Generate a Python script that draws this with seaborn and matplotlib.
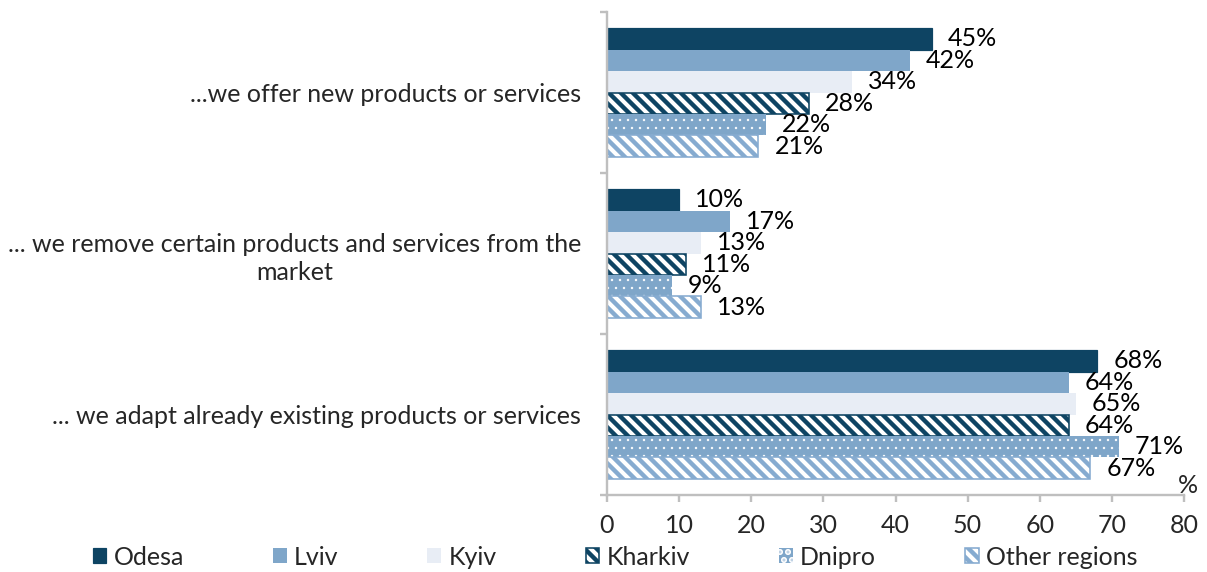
import matplotlib
matplotlib.use("Agg")
import matplotlib.pyplot as plt
import seaborn as sns
import pandas as pd
from matplotlib.ticker import FixedLocator

# Survey responses by region (% of respondents)
categories = [
    "...we offer new products or services",
    "... we remove certain products and services from the\nmarket",
    "... we adapt already existing products or services",
]
regions = ["Odesa", "Lviv", "Kyiv", "Kharkiv", "Dnipro", "Other regions"]
odesa = [45, 10, 68]
lviv = [42, 17, 64]
kyiv = [34, 13, 65]
kharkiv = [28, 11, 64]
dnipro = [22, 9, 71]
other_regions = [21, 13, 67]
series = [odesa, lviv, kyiv, kharkiv, dnipro, other_regions]
x_ticks = [0, 10, 20, 30, 40, 50, 60, 70, 80]

rows = []
for region, vals in zip(regions, series):
    for cat, v in zip(categories, vals):
        rows.append({"category": cat, "region": region, "value": v})
df = pd.DataFrame(rows)

sns.set_style("white")
plt.rcParams["font.family"] = ["Lato", "DejaVu Sans"]
plt.rcParams["hatch.linewidth"] = 2.2

NAVY = "#0e4463"
MID = "#7fa6c9"
PALE = "#e8edf5"
LINE = "#86abd0"
STRIPES = "\\" * 4

# (face, edge/hatch colour, hatch, edge width, hatch width)
styles = [
    (NAVY, NAVY, None, 0.6, None),
    (MID, MID, None, 0.0, None),
    (PALE, PALE, None, 0.0, None),
    ("white", NAVY, STRIPES, 0.8, 2.2),
    (MID, "white", "...", 0.0, 0.4),
    ("white", LINE, STRIPES, 0.8, 2.2),
]

DPI = 144
FS = 12.5
fig = plt.figure(figsize=(1207 / DPI, 572 / DPI), dpi=DPI)
ax = fig.add_axes([607 / 1207, 1 - 495 / 572, (1184 - 607) / 1207, (495 - 12) / 572])

palette = {r: s[0] for r, s in zip(regions, styles)}
sns.barplot(data=df, x="value", y="category", hue="region", order=categories,
            hue_order=regions, palette=palette, orient="h", width=0.8,
            saturation=1, legend=False, ax=ax)

handles = []
for cont, (face, edge, hatch, lw, hlw) in zip(ax.containers, styles):
    for bar in cont:
        bar.set_facecolor(face)
        bar.set_edgecolor(edge)
        bar.set_linewidth(lw)
        if hatch:
            bar.set_hatch(hatch)
            if hasattr(bar, "set_hatch_linewidth"):
                bar.set_hatch_linewidth(hlw)
    ax.bar_label(cont, labels=[f"{v:g}%" for v in cont.datavalues],
                 padding=8, fontsize=FS, color="black")
    handles.append(cont[0])

ax.set_xlim(0, 80)
ax.set_ylim(2.5, -0.5)
ax.set_xticks(x_ticks)
ax.set_xlabel("")
ax.set_ylabel("")

for side in ("top", "right"):
    ax.spines[side].set_visible(False)
for side in ("left", "bottom"):
    ax.spines[side].set_color("#bfbfbf")
    ax.spines[side].set_linewidth(1.2)

ax.tick_params(axis="x", which="major", direction="out", length=3.5, width=1.2,
               color="#bfbfbf", labelsize=FS, pad=6, bottom=True)
ax.tick_params(axis="y", which="major", length=0, labelsize=FS, pad=13)
ax.yaxis.set_minor_locator(FixedLocator([-0.5, 0.5, 1.5, 2.5]))
ax.tick_params(axis="y", which="minor", direction="out", length=3.5, width=1.2,
               color="#bfbfbf", left=True)
for lab in ax.get_yticklabels():
    lab.set_multialignment("center")
    lab.set_linespacing(1.3)

ax.text(1.007, -0.004, "%", transform=ax.transAxes, ha="center", va="bottom",
        fontsize=FS)

fig.legend(handles=handles, labels=regions, loc="center",
           bbox_to_anchor=(0.5096, 0.026), ncol=6, frameon=False, fontsize=FS,
           handlelength=0.55, handleheight=0.55, handletextpad=0.3,
           columnspacing=3.55)

fig.savefig("out.png", dpi=DPI)
